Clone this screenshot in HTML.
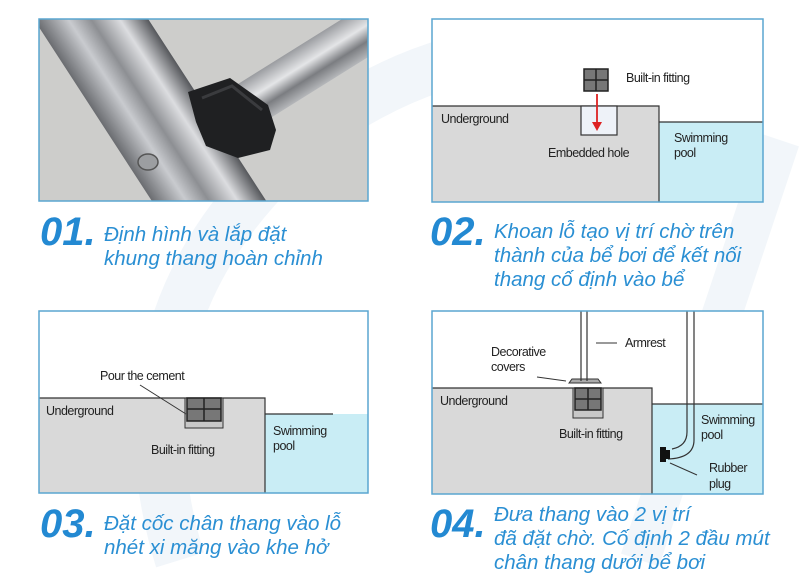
<!DOCTYPE html>
<html><head><meta charset="utf-8"><style>
html,body{margin:0;padding:0;background:#fff;width:800px;height:584px;overflow:hidden}
svg{display:block}
.n{font-family:"Liberation Sans",sans-serif;font-weight:bold;font-style:italic;font-size:40px;fill:#2389d2}
.t{font-family:"Liberation Sans","Noto Sans CJK SC",sans-serif;font-style:italic;font-size:20.5px;fill:#2a8fd3}
.l{font-family:"Liberation Sans",sans-serif;font-size:12.5px;fill:#222;letter-spacing:-0.5px}
</style></head><body>
<svg width="800" height="584" viewBox="0 0 800 584" xmlns="http://www.w3.org/2000/svg">
<defs>
<linearGradient id="tube" x1="0" y1="0" x2="1" y2="0">
<stop offset="0" stop-color="#6a6c70"/><stop offset="0.3" stop-color="#c9cbcf"/><stop offset="0.5" stop-color="#8d8f93"/><stop offset="0.75" stop-color="#dcdde0"/><stop offset="1" stop-color="#55575b"/></linearGradient>
<linearGradient id="tube2" x1="0" y1="0" x2="0" y2="1">
<stop offset="0" stop-color="#9a9ca0"/><stop offset="0.4" stop-color="#e4e5e7"/><stop offset="0.7" stop-color="#7b7d81"/><stop offset="1" stop-color="#b5b7ba"/></linearGradient>
</defs>
<path d="M180 560 Q100 300 330 120 Q480 20 640 60" fill="none" stroke="#f2f6fa" stroke-width="50"/>
<path d="M640 560 L780 140" stroke="#f2f6fa" stroke-width="40"/>

<g>
<clipPath id="c1"><rect x="39" y="19" width="329" height="182"/></clipPath>
<g clip-path="url(#c1)">
<rect x="39" y="19" width="329" height="182" fill="#c5c5c3"/>
<rect x="39" y="19" width="329" height="182" fill="#d6d6d4" opacity="0.5"/>
<g transform="translate(270 90) rotate(-32)">
<rect x="-150" y="-22" width="300" height="46" fill="url(#tube2)"/>
</g>
<g transform="translate(150 110) rotate(-33)">
<rect x="-48" y="-140" width="96" height="300" fill="url(#tube)"/>
</g>
<path d="M188 92 L230 78 L268 105 L276 130 L270 150 L238 158 L206 146 L196 122 Z" fill="#1f2022"/>
<path d="M202 98 L232 86 L262 110" fill="none" stroke="#3a3b3e" stroke-width="3"/>
<ellipse cx="148" cy="162" rx="10" ry="8" fill="#9c9ea1" stroke="#555" stroke-width="1.5"/>
</g>
<rect x="39" y="19" width="329" height="182" fill="none" stroke="#5aa6d0" stroke-width="1.5"/>
</g>

<g>
<rect x="432" y="19" width="331" height="183" fill="#fff"/>
<rect x="432" y="106" width="227" height="96" fill="#d9d9d9"/>
<rect x="659" y="122" width="104" height="80" fill="#c9edf5"/>
<path d="M432 106 L659 106 L659 202 M659 122 L763 122" fill="none" stroke="#333" stroke-width="1.2"/>
<rect x="581" y="106" width="36" height="29" fill="#eef2f8" stroke="#333" stroke-width="1.2"/>
<rect x="584" y="69" width="24" height="22" fill="#777" stroke="#222" stroke-width="1.5"/>
<path d="M596 69 V91 M584 80 H608" stroke="#222" stroke-width="1.5"/>
<path d="M597 94 V124" stroke="#d22" stroke-width="1.8"/>
<path d="M592 122 L597 131 L602 122 Z" fill="#d22"/>
<text class="l" x="626" y="82">Built-in fitting</text>
<text class="l" x="441" y="123">Underground</text>
<text class="l" x="548" y="157">Embedded hole</text>
<text class="l" x="674" y="142">Swimming</text>
<text class="l" x="674" y="157">pool</text>
<rect x="432" y="19" width="331" height="183" fill="none" stroke="#5aa6d0" stroke-width="1.5"/>
</g>

<g>
<rect x="39" y="311" width="329" height="182" fill="#fff"/>
<rect x="39" y="398" width="226" height="95" fill="#d9d9d9"/>
<rect x="265" y="414" width="103" height="79" fill="#c9edf5"/>
<path d="M39 398 L265 398 L265 493 M265 414 L333 414" fill="none" stroke="#333" stroke-width="1.2"/>
<rect x="185" y="398" width="38" height="30" fill="#c8c8c8" stroke="#333" stroke-width="1"/>
<rect x="187" y="398" width="34" height="23" fill="#777" stroke="#222" stroke-width="1.5"/>
<path d="M204 398 V421 M187 409 H221" stroke="#222" stroke-width="1.5"/>
<path d="M140 385 L186 414" stroke="#333" stroke-width="1"/>
<text class="l" x="100" y="380">Pour the cement</text>
<text class="l" x="46" y="415">Underground</text>
<text class="l" x="151" y="454">Built-in fitting</text>
<text class="l" x="273" y="435">Swimming</text>
<text class="l" x="273" y="450">pool</text>
<rect x="39" y="311" width="329" height="182" fill="none" stroke="#5aa6d0" stroke-width="1.5"/>
</g>

<g>
<rect x="432" y="311" width="331" height="183" fill="#fff"/>
<rect x="432" y="388" width="220" height="106" fill="#d9d9d9"/>
<rect x="652" y="404" width="111" height="90" fill="#c9edf5"/>
<path d="M432 388 L652 388 L652 494 M652 404 L763 404" fill="none" stroke="#333" stroke-width="1.2"/>
<rect x="573" y="388" width="30" height="30" fill="#c8c8c8" stroke="#333" stroke-width="1"/>
<rect x="575" y="388" width="26" height="22" fill="#777" stroke="#222" stroke-width="1.5"/>
<path d="M588 388 V410 M575 399 H601" stroke="#222" stroke-width="1.5"/>
<path d="M569 383 L572 379 L598 379 L601 383 Z" fill="#aaa" stroke="#333" stroke-width="1"/>
<path d="M581 311 V381 M587 311 V381" stroke="#333" stroke-width="1.2"/>
<path d="M687 311 V432 Q687 446 672 449 M694 311 V440 Q694 458 668 459" fill="none" stroke="#333" stroke-width="1.2"/>
<rect x="660" y="447" width="6" height="15" fill="#111"/>
<rect x="665" y="450" width="5" height="9" fill="#111"/>
<path d="M596 343 H617" stroke="#333" stroke-width="1"/>
<path d="M537 377 L566 381" stroke="#333" stroke-width="1"/>
<path d="M670 463 L697 475" stroke="#333" stroke-width="1"/>
<text class="l" x="625" y="347">Armrest</text>
<text class="l" x="491" y="356">Decorative</text>
<text class="l" x="491" y="371">covers</text>
<text class="l" x="440" y="405">Underground</text>
<text class="l" x="559" y="438">Built-in fitting</text>
<text class="l" x="701" y="424">Swimming</text>
<text class="l" x="701" y="439">pool</text>
<text class="l" x="709" y="472">Rubber</text>
<text class="l" x="709" y="488">plug</text>
<rect x="432" y="311" width="331" height="183" fill="none" stroke="#5aa6d0" stroke-width="1.5"/>
</g>

<text class="n" x="40" y="245">01.</text>
<text class="t" x="104" y="241">Định hình và lắp đặt</text>
<text class="t" x="104" y="265">khung thang hoàn chỉnh</text>

<text class="n" x="430" y="245">02.</text>
<text class="t" x="494" y="238">Khoan lỗ tạo vị trí chờ trên</text>
<text class="t" x="494" y="262">thành của bể bơi để kết nối</text>
<text class="t" x="494" y="286">thang cố định vào bể</text>

<text class="n" x="40" y="537">03.</text>
<text class="t" x="104" y="530">Đặt cốc chân thang vào lỗ</text>
<text class="t" x="104" y="554">nhét xi măng vào khe hở</text>

<text class="n" x="430" y="537">04.</text>
<text class="t" x="494" y="521">Đưa thang vào 2 vị trí</text>
<text class="t" x="494" y="545">đã đặt chờ. Cố định 2 đầu mút</text>
<text class="t" x="494" y="569">chân thang dưới bể bơi</text>
</svg>
</body></html>
